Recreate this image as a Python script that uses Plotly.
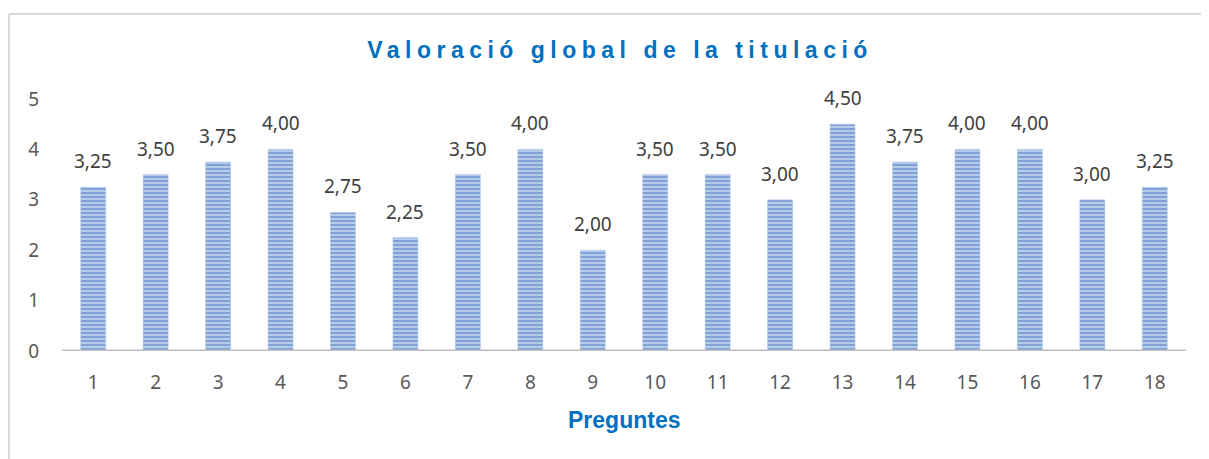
import plotly.graph_objects as go

categories = [str(i) for i in range(1, 19)]
values = [3.25, 3.50, 3.75, 4.00, 2.75, 2.25, 3.50, 4.00, 2.00,
          3.50, 3.50, 3.00, 4.50, 3.75, 4.00, 4.00, 3.00, 3.25]
y_ticks = [0, 1, 2, 3, 4, 5]
title_text = "Valoració global de la titulació"
x_title = "Preguntes"

# The page body has an 8px default margin; size the figure to fit the viewport.
W, H = 1201, 451
L, R, T, B = 54, 23, 91, 108
PW, PH = W - L - R, H - T - B

fig = go.Figure()
fig.add_trace(go.Bar(
    x=categories, y=values,
    marker=dict(
        color="#6f97d0",
        line=dict(width=0.5, color="#a9c2e6"),
        pattern=dict(shape="-", size=4, solidity=0.55,
                     fgcolor="#4674bd", bgcolor="#bcd0ec"),
    ),
    hoverinfo="skip",
))

label_font = dict(family="Noto Sans, Open Sans, sans-serif", size=19, color="#404040")
annotations = []
for i, v in enumerate(values):
    annotations.append(dict(
        x=i, y=v, xref="x", yref="y",
        text=f"{v:.2f}".replace(".", ","),
        showarrow=False, yanchor="bottom", yshift=11,
        font=label_font,
    ))
annotations.append(dict(
    x=0.5, y=0, xref="paper", yref="paper", xanchor="center", yanchor="middle",
    yshift=-69, text=f"<b>{x_title}</b>", showarrow=False,
    font=dict(family="Liberation Sans, Arial, sans-serif", size=23, color="#0070c0"),
))

tick_font = dict(family="Noto Sans, Open Sans, sans-serif", size=19, color="#595959")

fig.update_layout(
    width=W, height=H,
    margin=dict(l=L, r=R, t=T, b=B),
    paper_bgcolor="white", plot_bgcolor="white",
    bargap=0.6,
    showlegend=False,
    title=dict(
        text=f'<span style="letter-spacing:5.5px"><b>{title_text}</b></span>',
        x=612 / W, xanchor="center", y=1 - 42 / H, yanchor="middle",
        font=dict(family="Liberation Sans, Arial, sans-serif", size=23, color="#0070c0"),
    ),
    annotations=annotations,
    xaxis=dict(
        range=[-0.5, len(categories) - 0.5],
        showgrid=False, zeroline=False, showline=False,
        ticks="", ticklabelstandoff=18, tickfont=tick_font,
    ),
    yaxis=dict(
        range=[0, 5], tickvals=y_ticks, showgrid=False, zeroline=False,
        showline=False, ticks="", ticklabelstandoff=22, tickfont=tick_font,
    ),
    shapes=[
        dict(type="line", xref="paper", yref="y", x0=0, x1=1, y0=0, y1=0,
             line=dict(color="#bfbfbf", width=3)),
        dict(type="line", xref="paper", yref="paper", x0=-53 / PW, x1=1 + 30 / PW,
             y0=1 + 85 / PH, y1=1 + 85 / PH, line=dict(color="#d9d9d9", width=2)),
        dict(type="line", xref="paper", yref="paper", x0=-53 / PW, x1=-53 / PW,
             y0=1 + 85 / PH, y1=-120 / PH, line=dict(color="#d9d9d9", width=2)),
    ],
    separators=",.",
)

fig.write_html("out.html")
